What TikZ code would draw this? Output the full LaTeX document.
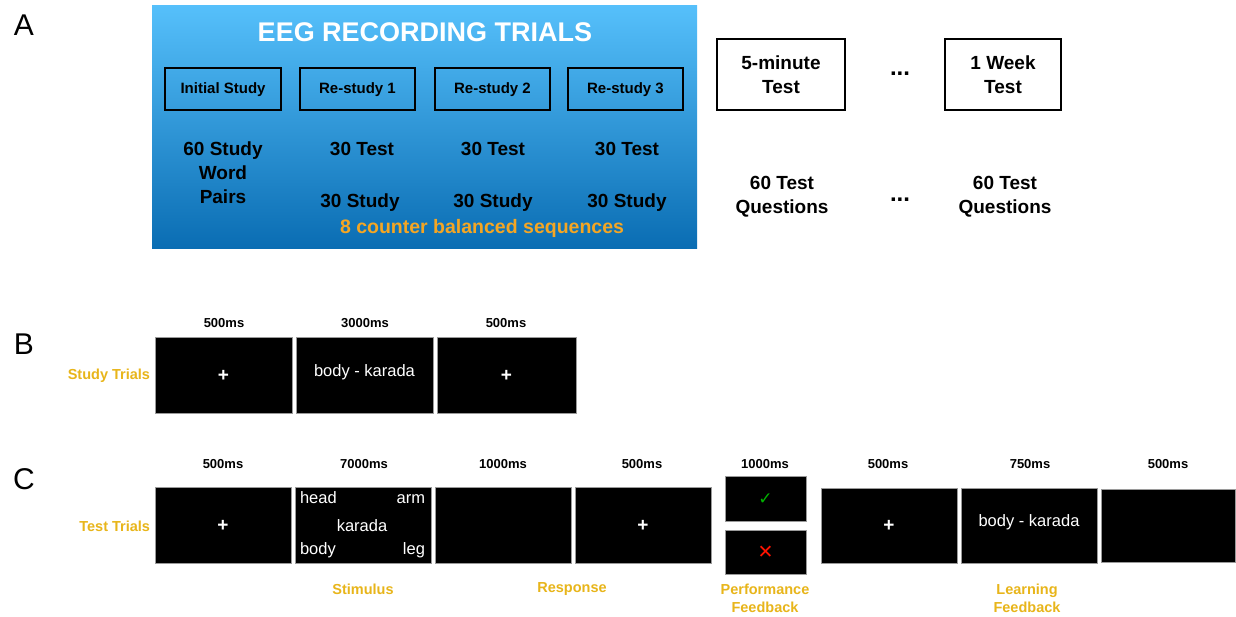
\documentclass[tikz,border=0pt]{standalone}
\usepackage{fontspec}
\setmainfont{Liberation Sans}
\newfontfamily\symfont{DejaVu Sans}
\definecolor{gold}{HTML}{E8B51A}
\definecolor{orng}{HTML}{F5A623}
\definecolor{btop}{HTML}{56C0FB}
\definecolor{bbot}{HTML}{0A6DB3}
\definecolor{scrb}{HTML}{9A9A9A}
\begin{document}
\begin{tikzpicture}[x=1pt,y=-1pt,
  every node/.style={inner sep=0pt,outer sep=0pt},
  panel/.style={font=\fontsize{30}{30}\selectfont},
  phase/.style={draw=black,line width=1.6pt},
  plab/.style={font=\bfseries\fontsize{15}{16}\selectfont},
  big/.style={font=\bfseries\fontsize{19}{24}\selectfont,align=center},
  tbox/.style={draw=black,line width=1.3pt,fill=white},
  screen/.style={fill=black,draw=scrb,line width=0.6pt},
  dur/.style={font=\bfseries\fontsize{13}{14}\selectfont},
  glab/.style={font=\bfseries\fontsize{14.5}{18}\selectfont,text=gold,align=center},
  wtxt/.style={text=white,font=\fontsize{16.5}{18}\selectfont},
  plus/.style={text=white,font=\bfseries\fontsize{19}{19}\selectfont}]
\useasboundingbox (0,0) rectangle (1236,616);
\fill[white] (0,0) rectangle (1236,616);
% panel letters
\node[panel] (A) at (24,25) {A};
\node[panel] (B) at (24,344) {B};
\node[panel] (C) at (24,479) {C};
% Panel A
\shade[top color=btop,bottom color=bbot] (152,5) rectangle (697,248);
\node[text=white,font=\bfseries\fontsize{27}{27}\selectfont] (title) at (425,32) {EEG RECORDING TRIALS};
\draw[phase] (165,68) rectangle (281,110); \node[plab] (ini) at (223,90) {Initial Study};
\draw[phase] (300,68) rectangle (415,110); \node[plab] (rs1) at (357.5,90) {Re-study 1};
\draw[phase] (435,68) rectangle (550,110); \node[plab] (rs2) at (492.5,90) {Re-study 2};
\draw[phase] (568,68) rectangle (683,110); \node[plab] (rs3) at (625.5,90) {Re-study 3};
\node[big] (isd) at (223,173) {60 Study\\Word\\Pairs};
\node[big] (t1) at (362,149) {30 Test};
\node[big] (t2) at (493,149) {30 Test};
\node[big] (t3) at (627,149) {30 Test};
\node[big] (s1) at (360,203) {30 Study};
\node[big] (s2) at (493,203) {30 Study};
\node[big] (s3) at (627,203) {30 Study};
\node[text=orng,font=\bfseries\fontsize{19.5}{20}\selectfont] (cb) at (482,228) {8 counter balanced sequences};
% right tests
\draw[tbox] (717,39) rectangle (845,110);
\node[big] (fmt) at (781,75) {5-minute\\Test};
\node[font=\bfseries\fontsize{24}{24}\selectfont] (dots1) at (900,74) {...};
\draw[tbox] (945,39) rectangle (1061,110);
\node[big] (wkt) at (1003,75) {1 Week\\Test};
\node[big] (q1) at (782,197) {60 Test\\Questions};
\node[font=\bfseries\fontsize{24}{24}\selectfont] (dots2) at (900,200) {...};
\node[big] (q2) at (1005,197) {60 Test\\Questions};
% Panel B
\node[glab,anchor=east] (stl) at (150,376) {Study Trials};
\draw[screen] (155,337) rectangle (292,413);
\node[plus] (b1) at (223.5,376) {+};
\draw[screen] (296,337) rectangle (433,413);
\node[wtxt] (b2) at (364.5,372) {body - karada};
\draw[screen] (437,337) rectangle (576,413);
\node[plus] (b3) at (506.5,376) {+};
\node[dur] (bd1) at (224,323) {500ms};
\node[dur] (bd2) at (365,323) {3000ms};
\node[dur] (bd3) at (506,323) {500ms};
% Panel C
\node[glab,anchor=east] (ttl) at (150,526) {Test Trials};
\draw[screen] (155,487) rectangle (291,563);
\node[plus] (c1) at (223,526) {+};
\draw[screen] (295,487) rectangle (431,563);
\node[wtxt,anchor=base west] (hd) at (300,503) {head};
\node[wtxt,anchor=base east] (am) at (425,503) {arm};
\node[wtxt,anchor=base] (kr) at (362,531) {karada};
\node[wtxt,anchor=base west] (bd) at (300,554) {body};
\node[wtxt,anchor=base east] (lg) at (425,554) {leg};
\draw[screen] (435,487) rectangle (571,563);
\draw[screen] (575,487) rectangle (711,563);
\node[plus] (c4) at (643,526) {+};
\draw[screen] (725,476) rectangle (806,521);
\node[text=green!70!black,font=\symfont\bfseries\fontsize{17}{17}\selectfont] (ok) at (765.5,499) {✓};
\draw[screen] (725,530) rectangle (806,574);
\node[text=red!85!orange,font=\symfont\bfseries\fontsize{19}{19}\selectfont] (no) at (765.5,552) {✕};
\draw[screen] (821,488) rectangle (957,563);
\node[plus] (c6) at (889,526) {+};
\draw[screen] (961,488) rectangle (1097,563);
\node[wtxt] (c7) at (1029,522) {body - karada};
\draw[screen] (1101,489) rectangle (1235,562);
\node[dur] (cd1) at (223,464) {500ms};
\node[dur] (cd2) at (364,464) {7000ms};
\node[dur] (cd3) at (503,464) {1000ms};
\node[dur] (cd4) at (642,464) {500ms};
\node[dur] (cd5) at (765,464) {1000ms};
\node[dur] (cd6) at (888,464) {500ms};
\node[dur] (cd7) at (1030,464) {750ms};
\node[dur] (cd8) at (1168,464) {500ms};
\node[glab] (stim) at (363,589) {Stimulus};
\node[glab] (resp) at (572,589) {Response};
\node[glab] (pf) at (765,598) {Performance\\Feedback};
\node[glab] (lf) at (1027,598) {Learning\\Feedback};
\end{tikzpicture}
\end{document}
